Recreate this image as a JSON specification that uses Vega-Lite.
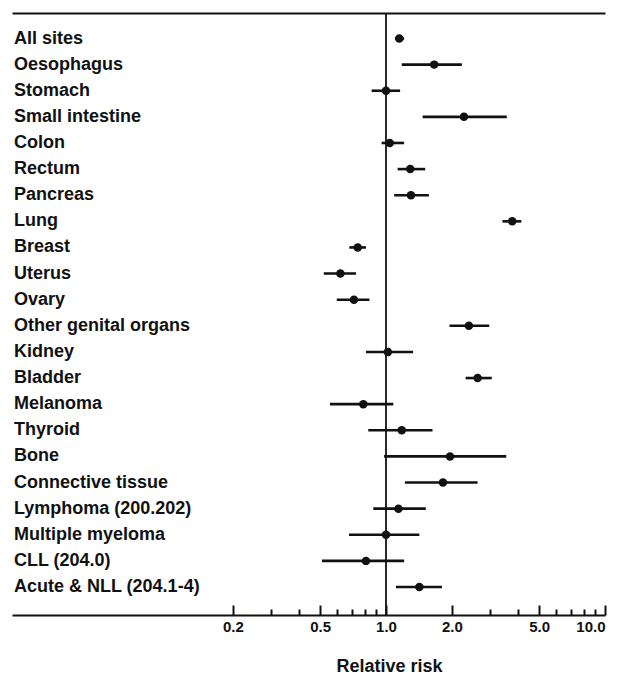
{
  "$schema": "https://vega.github.io/schema/vega-lite/v6.json",
  "autosize": "none",
  "padding": {"left": 12, "right": 14, "top": 13, "bottom": 60},
  "width": 593,
  "height": 602,
  "background": "white",
  "config": {"view": {"stroke": null}},
  "data": {"values": [
    {"site": "All sites", "rr": 1.15, "lo": 1.10, "hi": 1.21},
    {"site": "Oesophagus", "rr": 1.66, "lo": 1.18, "hi": 2.22},
    {"site": "Stomach", "rr": 1.0, "lo": 0.86, "hi": 1.16},
    {"site": "Small intestine", "rr": 2.27, "lo": 1.47, "hi": 3.56},
    {"site": "Colon", "rr": 1.04, "lo": 0.955, "hi": 1.21},
    {"site": "Rectum", "rr": 1.29, "lo": 1.13, "hi": 1.51},
    {"site": "Pancreas", "rr": 1.30, "lo": 1.09, "hi": 1.57},
    {"site": "Lung", "rr": 3.77, "lo": 3.40, "hi": 4.15},
    {"site": "Breast", "rr": 0.743, "lo": 0.68, "hi": 0.81},
    {"site": "Uterus", "rr": 0.619, "lo": 0.52, "hi": 0.73},
    {"site": "Ovary", "rr": 0.714, "lo": 0.596, "hi": 0.84},
    {"site": "Other genital organs", "rr": 2.39, "lo": 1.95, "hi": 2.96},
    {"site": "Kidney", "rr": 1.02, "lo": 0.81, "hi": 1.33},
    {"site": "Bladder", "rr": 2.62, "lo": 2.31, "hi": 3.04},
    {"site": "Melanoma", "rr": 0.788, "lo": 0.555, "hi": 1.08},
    {"site": "Thyroid", "rr": 1.18, "lo": 0.83, "hi": 1.63},
    {"site": "Bone", "rr": 1.96, "lo": 0.98, "hi": 3.54},
    {"site": "Connective tissue", "rr": 1.82, "lo": 1.22, "hi": 2.62},
    {"site": "Lymphoma (200.202)", "rr": 1.14, "lo": 0.875, "hi": 1.52},
    {"site": "Multiple myeloma", "rr": 1.0, "lo": 0.678, "hi": 1.42},
    {"site": "CLL (204.0)", "rr": 0.81, "lo": 0.51, "hi": 1.21},
    {"site": "Acute & NLL (204.1-4)", "rr": 1.42, "lo": 1.11, "hi": 1.80}
  ]},
  "resolve": {"axis": {"x": "independent"}},
  "layer": [
    {
      "data": {"values": [{}]},
      "mark": {"type": "rule", "strokeWidth": 1.8, "color": "#111"},
      "encoding": {
        "x": {"datum": 1, "type": "quantitative",
          "scale": {"type": "log", "domain": [0.0196, 10], "nice": false},
          "axis": {"orient": "top", "domain": true, "domainColor": "#111", "domainWidth": 2, "ticks": false, "labels": false, "grid": false, "title": null}}
      }
    },
    {
      "mark": {"type": "rule", "strokeWidth": 2.6, "color": "#111"},
      "encoding": {
        "x": {"field": "lo", "type": "quantitative",
          "axis": {"orient": "bottom", "values": [0.2, 0.5, 1, 2, 5, 10], "format": ".1f",
            "domain": true, "domainColor": "#111", "domainWidth": 2,
            "ticks": true, "tickSize": -10, "tickWidth": 2, "tickColor": "#111",
            "grid": false,
            "labelFont": "Liberation Sans", "labelFontWeight": "bold", "labelFontSize": 15, "labelColor": "#111", "labelPadding": 14,
            "title": "Relative risk", "titleFont": "Liberation Sans", "titleFontWeight": "bold", "titleFontSize": 18, "titleColor": "#111",
            "titleX": 377, "titleY": 51, "titleAlign": "center", "titleBaseline": "middle"}},
        "x2": {"field": "hi"},
        "y": {"field": "site", "type": "nominal", "sort": null, "scale": {"type": "point", "range": [25.5, 574], "padding": 0}, "axis": null}
      }
    },
    {
      "mark": {"type": "point", "filled": true, "size": 72, "color": "#111", "opacity": 1},
      "encoding": {
        "x": {"field": "rr", "type": "quantitative",
          "axis": {"orient": "bottom", "values": [0.3, 0.4, 0.6, 0.7, 0.8, 0.9, 3, 4, 6, 7, 8, 9],
            "domain": false, "ticks": true, "tickSize": -6, "tickWidth": 2, "tickColor": "#111",
            "labels": false, "grid": false, "title": null}},
        "y": {"field": "site", "type": "nominal", "sort": null}
      }
    },
    {
      "mark": {"type": "text", "align": "left", "baseline": "middle", "font": "Liberation Sans", "fontWeight": "bold", "fontSize": 18, "color": "#111"},
      "encoding": {
        "x": {"datum": 0.02, "type": "quantitative", "axis": null},
        "y": {"field": "site", "type": "nominal", "sort": null},
        "text": {"field": "site"}
      }
    }
  ]
}
